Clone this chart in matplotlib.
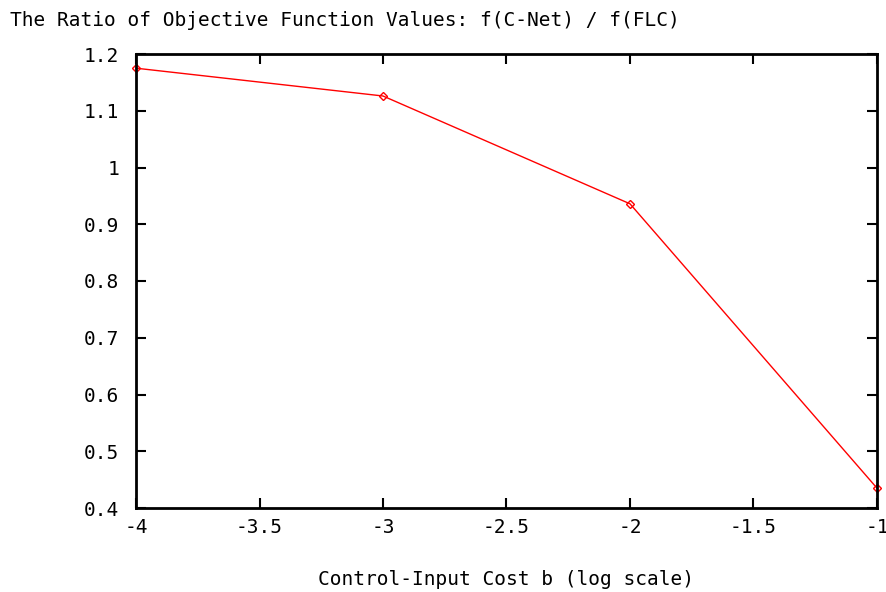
import matplotlib
matplotlib.use("Agg")
import matplotlib.pyplot as plt

x_vals = [-4, -3, -2, -1]
ratio = [1.175, 1.126, 0.936, 0.435]
x_ticks = [-4, -3.5, -3, -2.5, -2, -1.5, -1]
y_ticks = [0.4, 0.5, 0.6, 0.7, 0.8, 0.9, 1.0, 1.1, 1.2]
title = "The Ratio of Objective Function Values: f(C-Net) / f(FLC)"
xlabel = "Control-Input Cost b (log scale)"

plt.rcParams['font.family'] = ['DejaVu Sans Mono']
fig = plt.figure(figsize=(8.87, 5.92), dpi=100)
ax = fig.add_axes([136/887, 1-508/592, (877-136)/887, (508-54)/592])
ax.plot(x_vals, ratio, color='red', linewidth=1.0, marker='D', markersize=4,
        markerfacecolor='none', markeredgecolor='red', markeredgewidth=1.0, clip_on=False)
ax.set_xlim(-4, -1)
ax.set_ylim(0.4, 1.2)
ax.set_xticks(x_ticks)
ax.set_xticklabels([f"{t:g}" for t in x_ticks])
ax.set_yticks(y_ticks)
ax.set_yticklabels([f"{t:g}" for t in y_ticks])
ax.tick_params(direction='in', top=True, right=True, length=7, width=1.5, labelsize=14)
ax.tick_params(axis='x', pad=7)
ax.tick_params(axis='y', pad=12)
for s in ax.spines.values():
    s.set_linewidth(2)
ax.set_xlabel(xlabel, fontsize=14, labelpad=24)
fig.text(10/887, 1-20/592, title, fontsize=14, va='center', ha='left')
fig.savefig("out.png", dpi=100)
